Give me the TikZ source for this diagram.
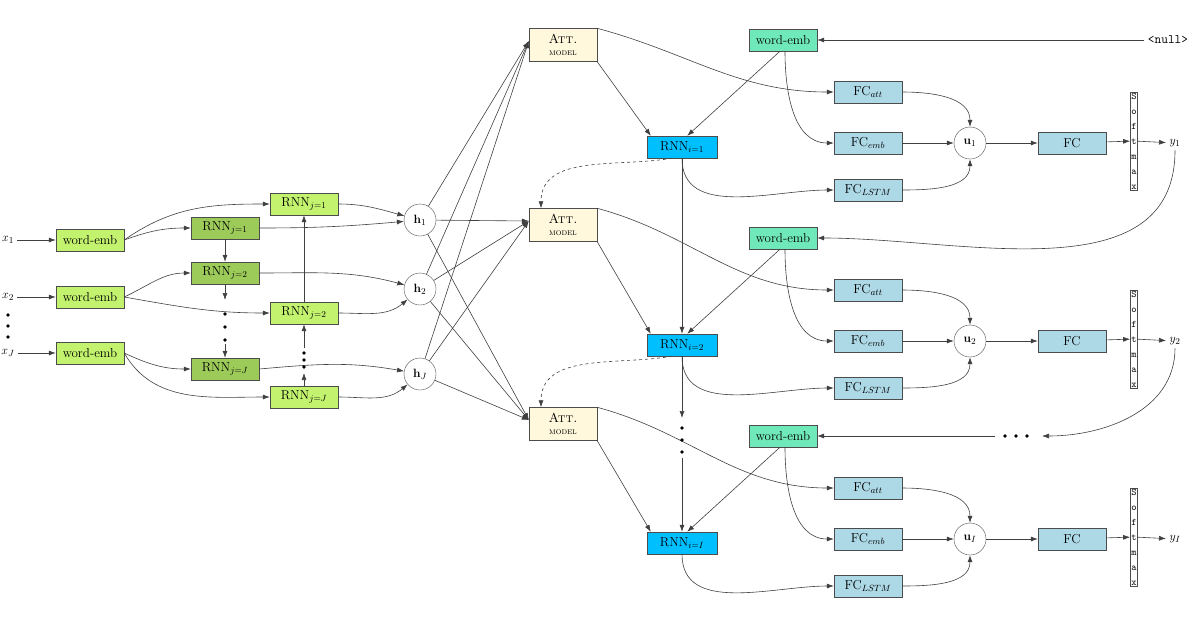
\documentclass[tikz,border=0pt]{standalone}
\usetikzlibrary{arrows.meta}
\begin{document}
\begin{tikzpicture}[x=1pt,y=-1pt,
  font=\fontsize{13}{15}\selectfont,
  box/.style={draw=black!70,minimum width=68pt,minimum height=22pt,inner sep=1pt},
  lg/.style={box,fill=lgreen},
  dg/.style={box,fill=dgreen},
  att/.style={box,fill=attc,minimum height=33pt,align=center},
  ri/.style={box,fill=rnnc,minimum width=70pt},
  wd/.style={box,fill=wdc},
  fc/.style={box,fill=fcc},
  circ/.style={circle,draw=black!70,minimum size=32pt,inner sep=0pt},
  sm/.style={draw=black!70,inner sep=1pt,align=center,font=\fontsize{10}{15}\selectfont\ttfamily},
  ar/.style={-{Latex[length=7pt,width=5pt]},black!75,line width=0.6pt},
  dt/.style={fill=black,circle,inner sep=0pt,minimum size=3.5pt}]
\definecolor{lgreen}{HTML}{C2F26E}
\definecolor{dgreen}{HTML}{9DCB5A}
\definecolor{attc}{HTML}{FFF8DC}
\definecolor{rnnc}{HTML}{00BFFF}
\definecolor{wdc}{HTML}{6FE9BA}
\definecolor{fcc}{HTML}{ADD8E6}
\useasboundingbox (0,0) rectangle (1200,630);
% encoder
\node (x1) at (8,240) {$x_1$};
\node (x2) at (8,297) {$x_2$};
\node (xJ) at (8,353) {$x_J$};
\foreach \y in {315,326,337} \fill (8,\y) circle (1.8);
\node[lg] (e1) at (90,240) {word-emb};
\node[lg] (e2) at (90,297) {word-emb};
\node[lg] (eJ) at (90,353) {word-emb};
\node[dg] (d1) at (225,228) {RNN$_{j=1}$};
\node[dg] (d2) at (225,273) {RNN$_{j=2}$};
\node[dg] (dJ) at (225,369) {RNN$_{j=J}$};
\node[lg] (l1) at (304,204) {RNN$_{j=1}$};
\node[lg] (l2) at (304,313) {RNN$_{j=2}$};
\node[lg] (lJ) at (304,397) {RNN$_{j=J}$};
\node[circ] (h1) at (420,220) {$\mathbf{h}_1$};
\node[circ] (h2) at (420,289) {$\mathbf{h}_2$};
\node[circ] (h3) at (420,374) {$\mathbf{h}_J$};
\foreach \a in {x1/e1,x2/e2,xJ/eJ} {\foreach \p/\q in \a \draw[ar] (\p) -- (\q);}
\draw[ar] (e1.east) to[out=35,in=180] (l1.west);
\draw[ar] (e1.east) to[out=20,in=180] (d1.west);
\draw[ar] (e2.east) to[out=25,in=180] (d2.west);
\draw[ar] (e2.east) to[out=-10,in=180] (l2.west);
\draw[ar] (eJ.east) to[out=-25,in=180] (dJ.west);
\draw[ar] (eJ.east) to[out=-60,in=180] (lJ.west);
\draw[ar] (l1.east) to[out=0,in=165] (h1);
\draw[ar] (d1.east) to[out=0,in=185] (h1);
\draw[ar] (d2.east) to[out=0,in=165] (h2);
\draw[ar] (l2.east) to[out=0,in=-140] (h2);
\draw[ar] (dJ.east) to[out=5,in=170] (h3);
\draw[ar] (lJ.east) to[out=0,in=-140] (h3);
% vertical chains
\draw[ar] (d1) -- (d2);
\coordinate (da) at (225,300); \coordinate (db) at (225,344);
\draw[ar] (d2) -- (da);
\foreach \y in {314,327,340} \fill (225,\y) circle (1.8);
\draw[ar] (db) -- (dJ);
\coordinate (la) at (304,373); \coordinate (lb) at (304,348);
\draw[ar] (lJ) -- (la);
\foreach \y in {353,360,367} \fill (304,\y) circle (1.8);
\draw[ar] (lb) -- (l2);
\draw[ar] (l2) -- (l1);
% attention
\node[att] (a1) at (563,45) {\textsc{Att.}\\[-3pt]{\small\textsc{model}}};
\node[att] (a2) at (563,225) {\textsc{Att.}\\[-3pt]{\small\textsc{model}}};
\node[att] (a3) at (563,424) {\textsc{Att.}\\[-3pt]{\small\textsc{model}}};
\foreach \h in {h1,h2,h3} \foreach \a in {a1,a2,a3} \draw[ar] (\h) -- ([yshift=4]\a.west);
% decoder
\node (null) at (1168,40) {\texttt{<null>}};
\foreach \k/\dy/\s in {1/0/1,2/198/2,3/396/I} {
  \node[ri] (r\k) at (682,147+\dy) {RNN$_{i=\s}$};
  \node[wd] (w\k) at (783,40+\dy) {word-emb};
  \node[fc] (fa\k) at (868,92+\dy) {FC$_{att}$};
  \node[fc] (fe\k) at (868,143+\dy) {FC$_{emb}$};
  \node[fc] (fl\k) at (868,190+\dy) {FC$_{LSTM}$};
  \node[circ] (u\k) at (970,143+\dy) {$\mathbf{u}_\s$};
  \node[fc] (f\k) at (1072,143+\dy) {FC};
  \node[sm] (s\k) at (1134,141+\dy) {S\\o\\f\\t\\m\\a\\x};
  \node (y\k) at (1175,143+\dy) {$y_\s$};
  \draw[ar] (a\k.south east) -- ([xshift=4]r\k.north west);
  \draw[ar] (a\k.north east) to[out=-15,in=180] (fa\k.west);
  \draw[ar] ([xshift=-3]w\k.south) -- ([xshift=-30]r\k.north east);
  \draw[ar] ([xshift=2]w\k.south) to[out=-90,in=180] (fe\k.west);
  \draw[ar] (r\k.south) to[out=-90,in=180] (fl\k.west);
  \draw[ar] (fa\k.east) to[out=0,in=90] (u\k.north);
  \draw[ar] (fe\k) -- (u\k);
  \draw[ar] (fl\k.east) to[out=0,in=-90] (u\k.south);
  \draw[ar] (u\k) -- (f\k);
  \draw[ar] (f\k) -- (s\k);
  \draw[ar] (s\k) -- (y\k);
}
\draw[ar] (null) -- (w1);
\draw[ar] (y1.south) to[out=-90,in=0] (w2.east);
\coordinate (ya) at (1042,436); \coordinate (yb) at (995,436);
\draw[ar] (y2.south) to[out=-90,in=0] (ya);
\foreach \x in {1005,1016,1027} \fill (\x,436) circle (1.8);
\draw[ar] (yb) -- (w3);
\draw[ar] (r1) -- (r2);
\coordinate (ra) at (682,418); \coordinate (rb) at (682,458);
\draw[ar] (r2) -- (ra);
\foreach \y in {428,440,452} \fill (682,\y) circle (1.8);
\draw[ar] (rb) -- (r3);
\draw[ar,dashed] ([xshift=-10]r1.south) to[out=190,in=90] ([xshift=-22]a2.north);
\draw[ar,dashed] ([xshift=-10]r2.south) to[out=190,in=90] ([xshift=-22]a3.north);
\end{tikzpicture}
\end{document}
